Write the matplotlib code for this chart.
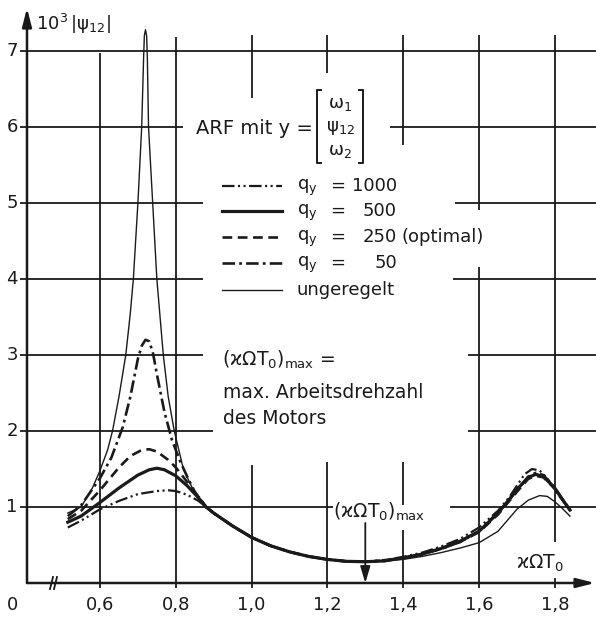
import matplotlib
matplotlib.use('Agg')
import matplotlib.pyplot as plt

plt.rcParams['font.family'] = ['DejaVu Sans']
plt.rcParams['mathtext.fontset'] = 'dejavusans'
plt.rcParams['mathtext.default'] = 'regular'
plt.rcParams['lines.scale_dashes'] = False

# ---------------- data ----------------
# shared middle branch (all curves coincide here)
x_mid = [0.90, 0.95, 1.00, 1.05, 1.10, 1.15, 1.20, 1.25, 1.30]
y_mid = [0.92, 0.75, 0.60, 0.49, 0.41, 0.35, 0.31, 0.285, 0.28]

# ungeregelt (thin solid)
x_ung_l = [0.515, 0.55, 0.58, 0.60, 0.62, 0.633, 0.65, 0.668, 0.68, 0.688, 0.70, 0.71,
           0.715, 0.717, 0.72, 0.723, 0.725, 0.728, 0.739, 0.75, 0.767, 0.78, 0.796,
           0.82, 0.85, 0.88]
y_ung_l = [0.92, 1.00, 1.25, 1.48, 1.75, 2.00, 2.45, 3.00, 3.55, 4.00, 5.00, 6.00,
           6.90, 7.20, 7.28, 7.20, 6.90, 6.00, 5.00, 4.00, 3.00, 2.45, 2.00,
           1.50, 1.18, 1.00]
x_ung_r = [1.35, 1.40, 1.45, 1.50, 1.55, 1.60, 1.65, 1.70, 1.73, 1.76, 1.78, 1.80, 1.82, 1.84]
y_ung_r = [0.29, 0.31, 0.35, 0.40, 0.46, 0.53, 0.68, 0.97, 1.09, 1.15, 1.14, 1.07, 0.98, 0.88]

# q_y = 50 (dash-dot)
x_q50_l = [0.515, 0.55, 0.60, 0.63, 0.66, 0.68, 0.70, 0.71, 0.72, 0.73, 0.74, 0.75,
           0.77, 0.79, 0.81, 0.83, 0.85, 0.88]
y_q50_l = [0.88, 1.02, 1.38, 1.65, 2.05, 2.45, 2.95, 3.12, 3.20, 3.18, 3.02, 2.75,
           2.25, 1.88, 1.62, 1.40, 1.20, 1.00]
x_q50_r = [1.35, 1.40, 1.45, 1.50, 1.55, 1.60, 1.65, 1.68, 1.70, 1.73, 1.75, 1.77, 1.80, 1.82, 1.84]
y_q50_r = [0.30, 0.33, 0.38, 0.45, 0.54, 0.68, 0.93, 1.10, 1.22, 1.40, 1.45, 1.42, 1.25, 1.10, 0.97]

# q_y = 250 (dashed, optimal)
x_q250_l = [0.515, 0.55, 0.60, 0.65, 0.68, 0.71, 0.73, 0.75, 0.78, 0.80, 0.83, 0.86, 0.88]
y_q250_l = [0.84, 0.95, 1.22, 1.52, 1.67, 1.75, 1.76, 1.73, 1.62, 1.52, 1.33, 1.13, 1.00]
x_q250_r = [1.35, 1.40, 1.45, 1.50, 1.55, 1.60, 1.65, 1.68, 1.70, 1.73, 1.75, 1.77, 1.80, 1.82, 1.84]
y_q250_r = [0.29, 0.33, 0.38, 0.45, 0.54, 0.67, 0.90, 1.08, 1.20, 1.37, 1.41, 1.39, 1.24, 1.10, 0.96]

# q_y = 500 (thick solid)
x_q500_l = [0.515, 0.55, 0.60, 0.65, 0.70, 0.73, 0.75, 0.77, 0.80, 0.83, 0.86, 0.88]
y_q500_l = [0.80, 0.88, 1.06, 1.25, 1.42, 1.49, 1.51, 1.49, 1.41, 1.28, 1.12, 1.00]
x_q500_r = [1.35, 1.40, 1.45, 1.50, 1.55, 1.60, 1.65, 1.68, 1.70, 1.73, 1.75, 1.77, 1.80, 1.82, 1.84]
y_q500_r = [0.29, 0.33, 0.38, 0.455, 0.55, 0.68, 0.92, 1.10, 1.23, 1.39, 1.43, 1.40, 1.25, 1.10, 0.96]

# q_y = 1000 (dash-dot-dot)
x_q1000_l = [0.515, 0.55, 0.60, 0.65, 0.70, 0.75, 0.78, 0.80, 0.83, 0.86, 0.88]
y_q1000_l = [0.73, 0.82, 0.97, 1.08, 1.17, 1.21, 1.22, 1.21, 1.16, 1.08, 1.00]
x_q1000_r = [1.35, 1.40, 1.45, 1.50, 1.55, 1.60, 1.65, 1.68, 1.70, 1.72, 1.74, 1.76, 1.78, 1.80, 1.82, 1.84]
y_q1000_r = [0.30, 0.345, 0.40, 0.48, 0.58, 0.73, 0.95, 1.13, 1.28, 1.43, 1.50, 1.48, 1.38, 1.23, 1.09, 0.96]

x_ticks = [0.6, 0.8, 1.0, 1.2, 1.4, 1.6, 1.8]
x_tick_labels = ['0,6', '0,8', '1,0', '1,2', '1,4', '1,6', '1,8']
y_ticks = [1, 2, 3, 4, 5, 6, 7]
y_tick_labels = ['1', '2', '3', '4', '5', '6', '7']
x_marker = 1.3   # (kappa Omega T0)_max

legend_labels = ['1000', '500', '250', '50']

# ---------------- figure ----------------
W, H = 596, 617
fig = plt.figure(figsize=(W / 100, H / 100), dpi=100)
ax = fig.add_axes([0, 0, 1, 1])
ax.axis('off')


def X(px):
    return 0.6 + (px - 100) / 379.0


def Y(py):
    return (583 - py) / 76.0


ax.set_xlim(X(0), X(W))
ax.set_ylim(Y(H), Y(0))

ink = '#1a1a1a'
glw = 1.3

# horizontal grid segments (pixel extents, where the drawing leaves gaps for text)
h_segments = {
    7: [(20, 596)],
    6: [(20, 183), (390, 596)],
    5: [(20, 203), (455, 596)],
    4: [(20, 203), (453, 596)],
    3: [(20, 203), (468, 596)],
    2: [(20, 213), (468, 596)],
    1: [(20, 333), (450, 596)],
}
for yv, segs in h_segments.items():
    for a, b in segs:
        ax.plot([X(a), X(b)], [yv, yv], color=ink, lw=glw, solid_capstyle='butt')

v_segments = {
    0.6: [(53, 588)],
    0.8: [(37, 588)],
    1.0: [(35, 98), (465, 588)],
    1.2: [(35, 73), (462, 588)],
    1.4: [(35, 145), (462, 505), (530, 588)],
    1.6: [(35, 210), (267, 588)],
    1.8: [(35, 542), (578, 588)],
}
for xv, segs in v_segments.items():
    for a, b in segs:
        ax.plot([xv, xv], [Y(a), Y(b)], color=ink, lw=glw, solid_capstyle='butt')

# axes with arrows
x0 = X(27)
ax.annotate('', xy=(x0, Y(8)), xytext=(x0, 0), zorder=5,
            arrowprops=dict(arrowstyle='-|>,head_length=1.1,head_width=0.28',
                            color=ink, lw=1.8, shrinkA=0, shrinkB=0))
ax.annotate('', xy=(X(595), 0), xytext=(x0, 0), zorder=5,
            arrowprops=dict(arrowstyle='-|>,head_length=1.1,head_width=0.28',
                            color=ink, lw=1.8, shrinkA=0, shrinkB=0))
# axis break marks
for dx in (0, 4):
    ax.plot([X(50 + dx), X(53 + dx)], [Y(589), Y(577)], color=ink, lw=1.3)

# tick labels
for xv, lab in zip(x_ticks, x_tick_labels):
    ax.text(xv, Y(605), lab, ha='center', va='center', fontsize=13, color=ink)
ax.text(X(12), Y(605), '0', ha='center', va='center', fontsize=13, color=ink)
for yv, lab in zip(y_ticks, y_tick_labels):
    ax.text(X(12), yv, lab, ha='center', va='center', fontsize=13, color=ink)

ax.text(X(36), Y(24), r'$10^3\,|\psi_{12}|$', ha='left', va='center', fontsize=13, color=ink)

# curves
def cat(a, b, c):
    return list(a) + list(b) + list(c)

ax.plot(cat(x_ung_l, x_mid, x_ung_r), cat(y_ung_l, y_mid, y_ung_r),
        color=ink, lw=1.0, zorder=4)
ax.plot(cat(x_q50_l, x_mid, x_q50_r), cat(y_q50_l, y_mid, y_q50_r),
        color=ink, lw=1.9, dashes=(9, 3, 2, 3), zorder=4)
ax.plot(cat(x_q250_l, x_mid, x_q250_r), cat(y_q250_l, y_mid, y_q250_r),
        color=ink, lw=1.9, dashes=(7, 4), zorder=4)
ax.plot(cat(x_q500_l, x_mid, x_q500_r), cat(y_q500_l, y_mid, y_q500_r),
        color=ink, lw=2.3, zorder=4)
ax.plot(cat(x_q1000_l, x_mid, x_q1000_r), cat(y_q1000_l, y_mid, y_q1000_r),
        color=ink, lw=1.6, dashes=(9, 2.5, 1.5, 2.5, 1.5, 2.5), zorder=4)

# ARF text with vector
ax.text(X(196), Y(129), 'ARF mit y =', ha='left', va='center', fontsize=14, color=ink)
ax.plot([X(321), X(317), X(317), X(321)], [Y(90), Y(90), Y(163), Y(163)], color=ink, lw=1.4)
ax.plot([X(359), X(363), X(363), X(359)], [Y(90), Y(90), Y(163), Y(163)], color=ink, lw=1.4)
ax.text(X(340), Y(104), r'$\omega_1$', ha='center', va='center', fontsize=13, color=ink)
ax.text(X(340), Y(128), r'$\psi_{12}$', ha='center', va='center', fontsize=13, color=ink)
ax.text(X(340), Y(151), r'$\omega_2$', ha='center', va='center', fontsize=13, color=ink)

# legend
rows_py = [186, 211, 237, 263, 290]
styles = [dict(lw=1.6, dashes=(9, 2.5, 1.5, 2.5, 1.5, 2.5)),
          dict(lw=2.3),
          dict(lw=1.9, dashes=(7, 4)),
          dict(lw=1.9, dashes=(9, 3, 2, 3)),
          dict(lw=1.0)]
for py, st in zip(rows_py, styles):
    ax.plot([X(222), X(282)], [Y(py), Y(py)], color=ink, **st)
for py, lab in zip(rows_py[:4], legend_labels):
    ax.text(X(297), Y(py + 2), r'$q_y$', ha='left', va='center', fontsize=13, color=ink)
    ax.text(X(338), Y(py), '=', ha='center', va='center', fontsize=13, color=ink)
    ax.text(X(397), Y(py), lab, ha='right', va='center', fontsize=13, color=ink)
ax.text(X(401), Y(rows_py[2]), '(optimal)', ha='left', va='center', fontsize=13, color=ink)
ax.text(X(297), Y(rows_py[4]), 'ungeregelt', ha='left', va='center', fontsize=13, color=ink)

# note
ax.text(X(222), Y(360), '$(\u03f0\\Omega T_0)_{max}$ =', ha='left', va='center',
        fontsize=13.5, color=ink)
ax.text(X(223), Y(393), 'max. Arbeitsdrehzahl', ha='left', va='center', fontsize=13.5, color=ink)
ax.text(X(223), Y(418), 'des Motors', ha='left', va='center', fontsize=13.5, color=ink)

# marker for max operating speed
ax.text(X(333), Y(512), '$(\u03f0\\Omega T_0)_{max}$', ha='left', va='center',
        fontsize=13.5, color=ink)
ax.annotate('', xy=(x_marker, 0), xytext=(x_marker, Y(523)), zorder=5,
            arrowprops=dict(arrowstyle='-|>,head_length=1.0,head_width=0.3',
                            color=ink, lw=1.3, shrinkA=0, shrinkB=0))

# x axis label
ax.text(X(516), Y(563), '\u03f0\u03a9T$_0$', ha='left', va='center', fontsize=13.5, color=ink)

fig.savefig('out.png', dpi=100, facecolor='white')
